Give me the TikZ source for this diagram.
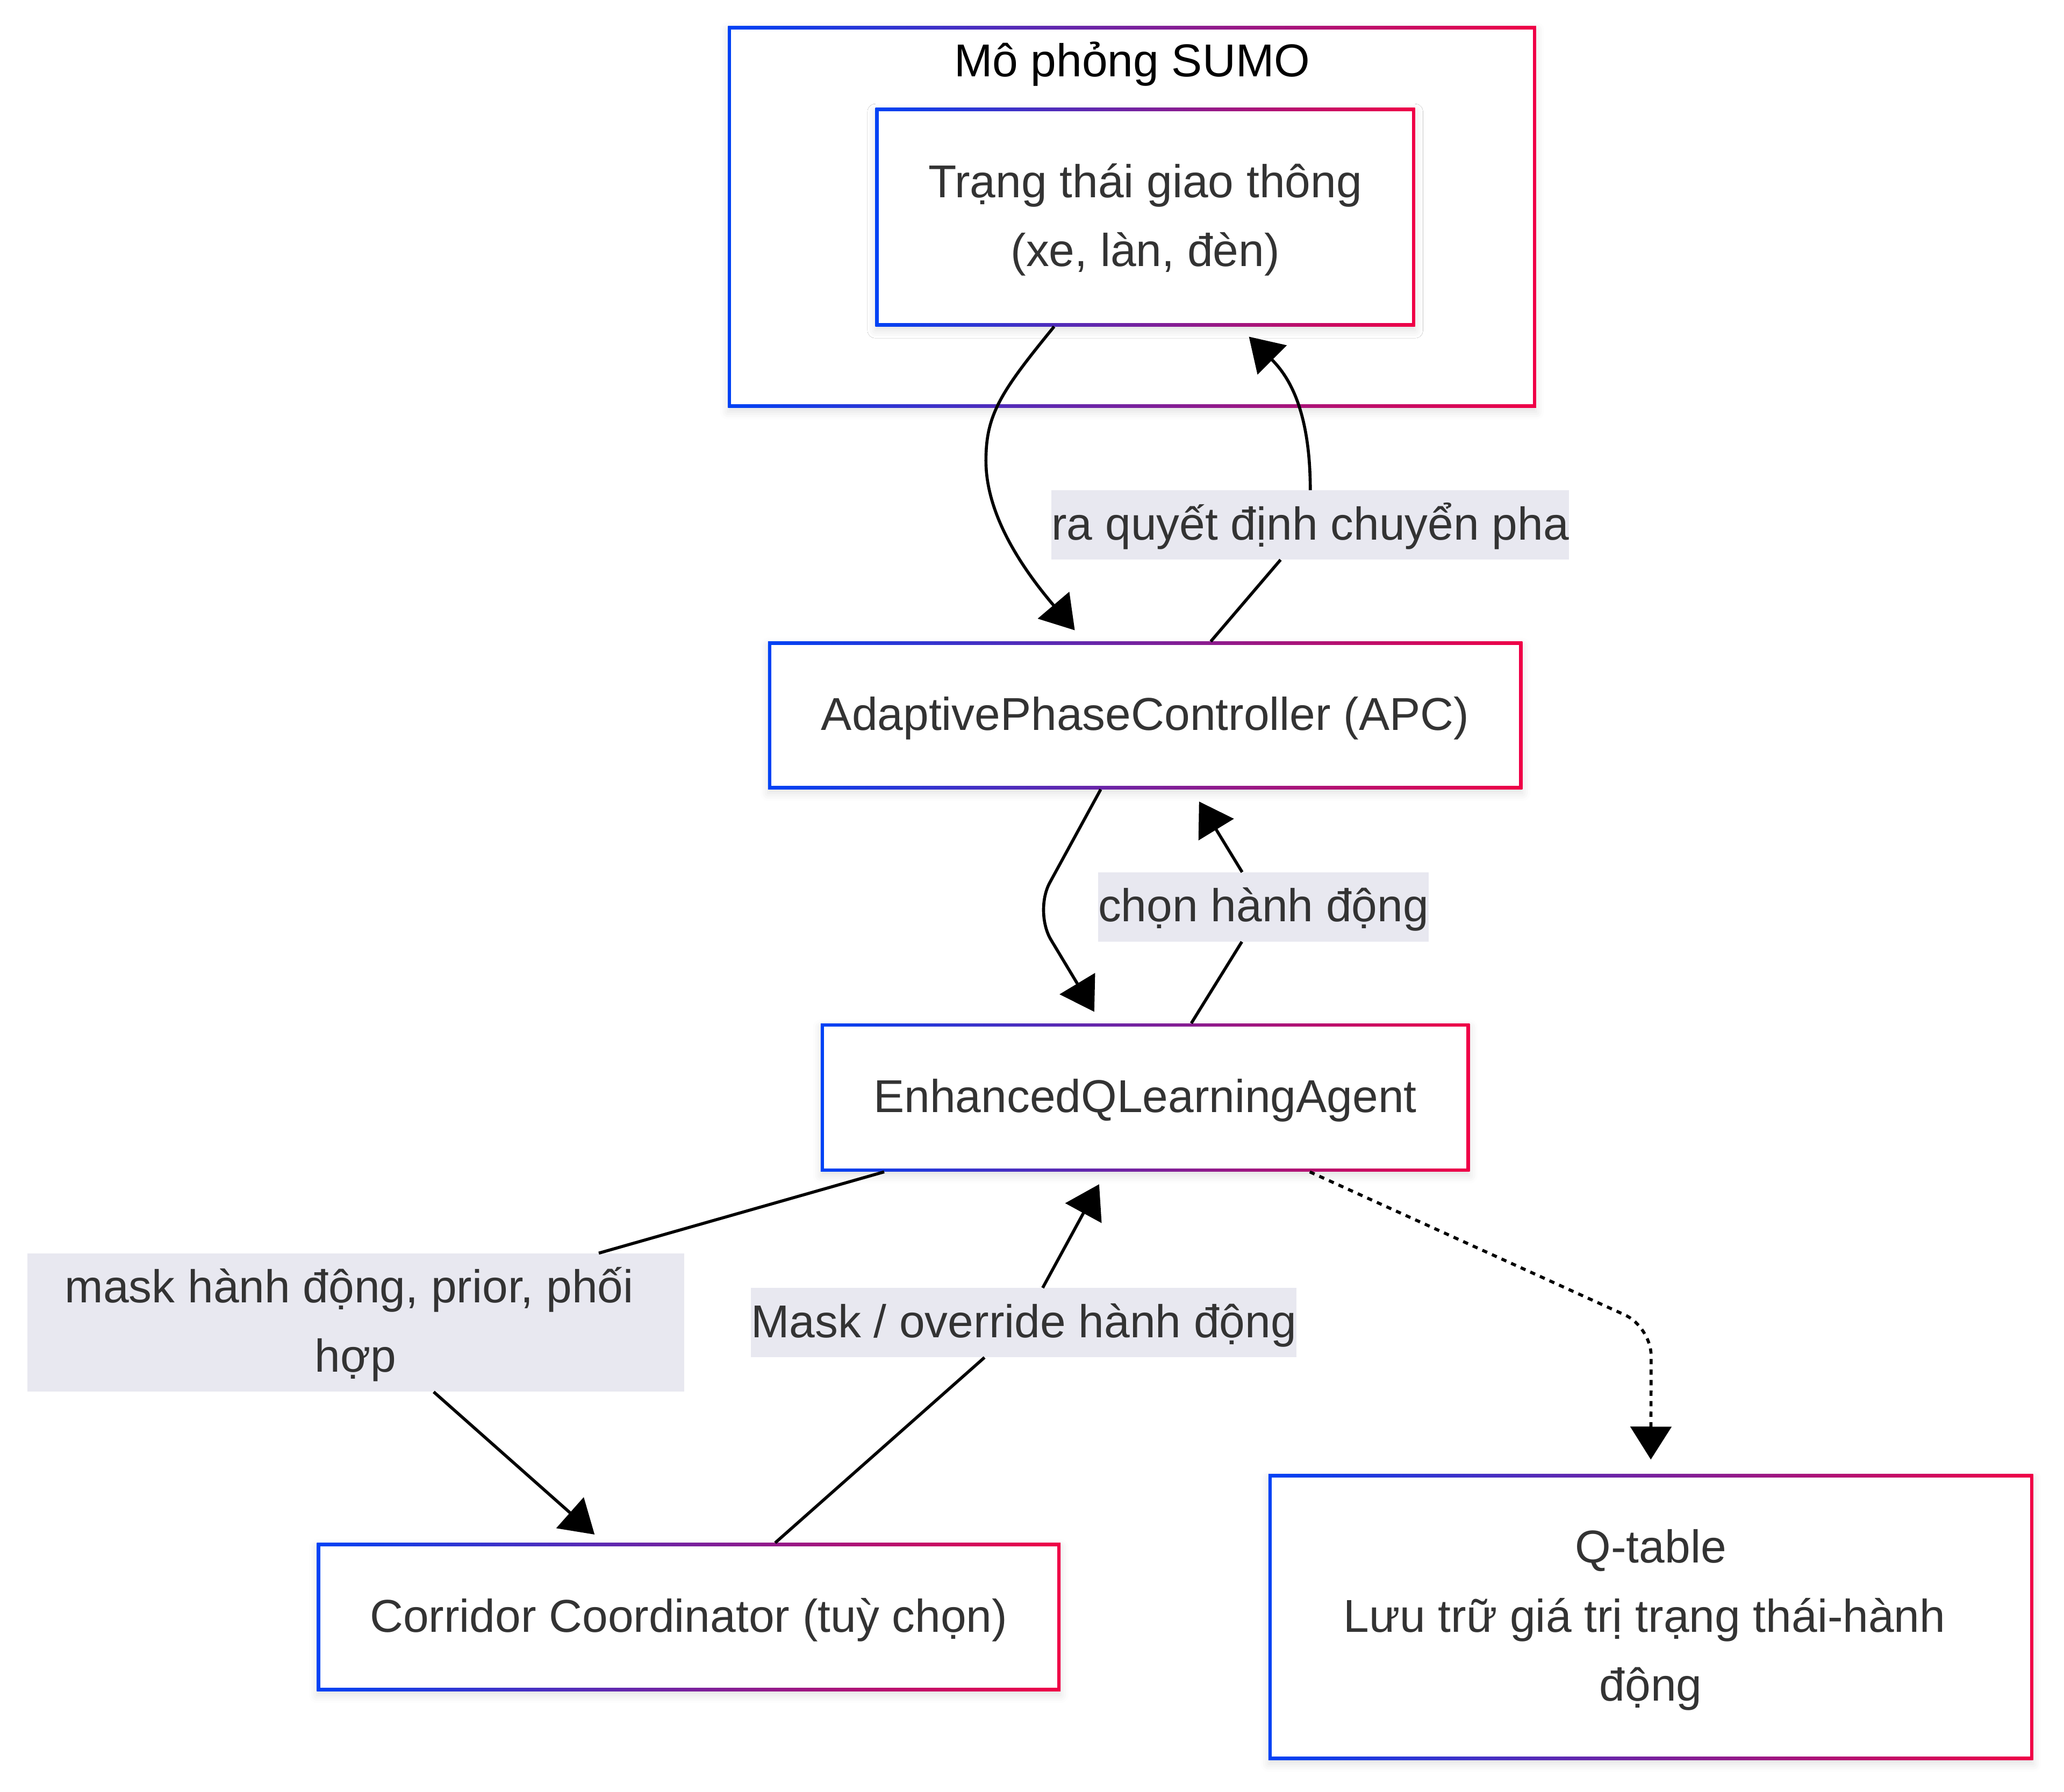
\documentclass[tikz,border=0pt]{standalone}
\usepackage{fontspec}
\setmainfont{Liberation Sans}
\usetikzlibrary{positioning,arrows.meta,shadows.blur}

\definecolor{gradl}{RGB}{0,66,245}
\definecolor{gradr}{RGB}{240,0,70}
\definecolor{txtgray}{RGB}{51,51,51}
\definecolor{lblbg}{RGB}{232,232,240}

\newcommand{\lnstrut}{\rule[-15pt]{0pt}{52.5pt}}

\tikzset{
    gradbox/.style={left color=gradl, right color=gradr, draw=none, inner sep=0pt,
        align=center, text=txtgray, font=\fontsize{35}{52.5}\selectfont,
        blur shadow={shadow xshift=0pt, shadow yshift=-3pt, shadow blur radius=6pt, shadow opacity=12},
        path picture={\fill[white] ([shift={(2.5pt,2.5pt)}]path picture bounding box.south west)
            rectangle ([shift={(-2.5pt,-2.5pt)}]path picture bounding box.north east);}},
    edgelbl/.style={fill=lblbg, inner sep=0pt, align=center, text=txtgray,
        font=\fontsize{35}{52.5}\selectfont},
    link/.style={line width=2.3pt},
    flow/.style={link, -{Triangle[length=25pt,width=31pt]}}
}

\begin{document}
\begin{tikzpicture}[x=1pt, y=-1pt, on grid]
    \useasboundingbox (0,0) rectangle (1568,1361);

    % SUMO cluster
    \node[gradbox, minimum width=614pt, minimum height=290pt] (sumo) at (860,164.75) {};
    \node[font=\fontsize{35}{52.5}\selectfont, inner sep=0pt] (sumotitle) at (860,46.75) {\lnstrut Mô phỏng SUMO};

    \node[gradbox, minimum width=410pt, minimum height=166pt] (state) at (870,164.9)
        {\lnstrut Trạng thái giao thông\\\lnstrut (xe, làn, đèn)};
    \node[gradbox, minimum width=573pt, minimum height=112pt] (apc) [below=378.6pt of state]
        {\lnstrut AdaptivePhaseController (APC)};
    \node[gradbox, minimum width=493pt, minimum height=112.5pt] (agent) [below=290.3pt of apc]
        {\lnstrut EnhancedQLearningAgent};
    \node[gradbox, minimum width=565pt, minimum height=112.5pt] (corridor) [below left=394.7pt and 346.8pt of agent]
        {\lnstrut Corridor Coordinator (tuỳ chọn)};
    \node[gradbox, minimum width=581pt, minimum height=217pt] (qtable) [below right=394.7pt and 384.1pt of agent]
        {\lnstrut Q-table\\\lnstrut Lưu trữ giá trị trạng thái-hành\kern9.7pt\\\lnstrut động};

    % edge labels
    \node[edgelbl] (rq) at (995.4,398.8) {\lnstrut ra quyết định chuyển pha};
    \node[edgelbl] (ch) at (959.8,689) {\lnstrut chọn hành động};
    \node[edgelbl, minimum width=499pt] (mk) at (270.2,1004.7)
        {\lnstrut mask hành động, prior, phối\kern9.7pt\\\lnstrut hợp};
    \node[edgelbl] (mo) at (777.7,1004.8) {\lnstrut Mask / override hành động};

    % connectors
    \draw[flow] ([shift={(-69.2,0)}]state.south) .. controls (760,298) and (749,315) .. (749,350)
        .. controls (749,390) and (775,430) .. ([shift={(-53.5,-8.5)}]apc.north);
    \draw[link] ([shift={(49.8,0)}]apc.north) -- (rq);
    \draw[flow] (rq) .. controls (995.4,310) and (978,285) .. ([shift={(78.8,7.7)}]state.south);

    \draw[flow, rounded corners=25pt] ([shift={(-33.8,0)}]apc.south) -- (785.5,692.5)
        -- ([shift={(-38.7,-8.7)}]agent.north);
    \draw[link] ([shift={(35,0)}]agent.north) -- (ch);
    \draw[flow] (ch) -- ([shift={(40.9,9.2)}]apc.south);

    \draw[link] ([shift={(-198.3,0)}]agent.south) -- (mk);
    \draw[flow] (mk) -- ([shift={(-71.5,-6.3)}]corridor.north);
    \draw[link] ([shift={(65.7,0)}]corridor.north) -- (mo);
    \draw[flow] (mo) -- ([shift={(-35,9.4)}]agent.south);

    \draw[flow, dash pattern=on 4pt off 4pt, rounded corners=22pt] ([shift={(125,0)}]agent.south)
        -- (1254.4,1008) -- ([shift={(0,-11)}]qtable.north);
\end{tikzpicture}
\end{document}
